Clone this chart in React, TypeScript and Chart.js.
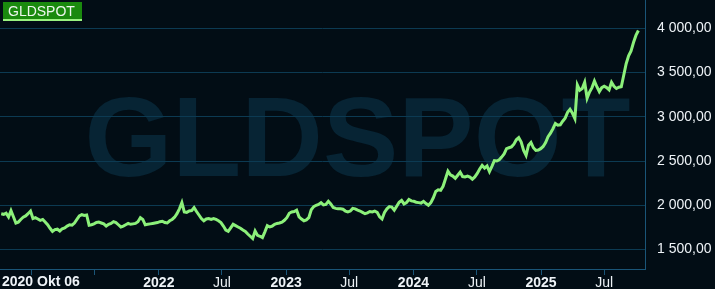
import { useEffect, useRef } from 'react';
import { Chart, registerables } from 'chart.js';

Chart.register(...registerables);

// Weekly gold spot values, starting 2020 Okt 06
const DAY_STEP = 7;
const PRICES = [
  1905, 1898, 1910, 1868, 1940, 1870, 1800, 1810, 1840, 1865,
  1880, 1905, 1935, 1850, 1860, 1845, 1830, 1840, 1812, 1780,
  1740, 1705, 1725, 1730, 1710, 1735, 1745, 1765, 1780, 1775,
  1800, 1840, 1880, 1895, 1885, 1890, 1775, 1780, 1790, 1805,
  1810, 1800, 1790, 1765, 1785, 1795, 1815, 1805, 1780, 1755,
  1765, 1780, 1795, 1785, 1790, 1795, 1815, 1860, 1840, 1780,
  1785, 1790, 1795, 1800, 1805, 1815, 1820, 1805, 1800, 1825,
  1840, 1865, 1905, 1960, 2030, 1925, 1920, 1935, 1940, 1975,
  1930, 1890, 1850, 1825, 1845, 1850, 1840, 1850, 1840, 1825,
  1805, 1765, 1720, 1705, 1745, 1785, 1770, 1755, 1740, 1720,
  1705, 1675, 1650, 1625, 1710, 1660, 1650, 1635, 1700, 1770,
  1755, 1765, 1785, 1795, 1800, 1810, 1830, 1860, 1910, 1925,
  1930, 1945, 1870, 1845, 1825, 1835, 1860, 1950, 1985, 2000,
  2010, 2030, 2005, 2010, 2045, 2015, 1975, 1965, 1960, 1960,
  1955, 1935, 1925, 1935, 1965, 1960, 1945, 1935, 1920, 1905,
  1915, 1930, 1925, 1935, 1920, 1870, 1845, 1920, 1960, 1985,
  1980, 1945, 1990, 2035, 2055, 2015, 2030, 2065, 2050, 2045,
  2035, 2030, 2025, 2045, 2020, 2000, 2030, 2085, 2155, 2175,
  2170, 2215, 2300, 2385, 2345, 2330, 2305, 2340, 2375, 2325,
  2320, 2330, 2318, 2295, 2320, 2360, 2410, 2450, 2420, 2445,
  2380, 2440, 2505, 2500, 2515, 2545, 2580, 2640, 2650, 2660,
  2690, 2740, 2765, 2715, 2620, 2565, 2680, 2710, 2650, 2620,
  2625, 2640, 2665, 2710, 2775, 2815, 2865, 2925, 2905, 2910,
  2950, 2985, 3050, 3085, 3040, 2980, 3360, 3300, 3320, 3390,
  3210, 3280, 3330, 3405, 3340, 3285, 3330, 3345, 3330, 3305,
  3390, 3345, 3320, 3335, 3340, 3470, 3600, 3690, 3745, 3840,
  3920, 3975,
];

const SERIES_NAME = 'GLDSPOT';
const START_LABEL = '2020 Okt 06';
// days since 2020-10-06
const X_TICK_DAYS = [87, 268, 452, 633, 817, 998, 1182, 1364, 1548, 1729];
const X_TICK_LABELS = ['', '', '2022', 'Jul', '2023', 'Jul', '2024', 'Jul', '2025', 'Jul'];
const Y_TICKS = [1500, 2000, 2500, 3000, 3500, 4000];

const BG = '#020d15';
const GRID = '#0c3a52';
const AXIS = '#1a5578';
const TEXT = '#eef3f7';
const LINE = '#8cf07a';
const WATERMARK = '#072434';
const FONT = '"Liberation Sans", Arial, sans-serif';

const fmt = (v: number) => {
  const s = Math.round(v).toString().replace(/\B(?=(\d{3})+(?!\d))/g, ' ');
  return s + ',00';
};

const zeroPad = (s: any) => {
  s.paddingTop = 0;
  s.paddingBottom = 0;
  s.paddingLeft = 0;
  s.paddingRight = 0;
};

const decor = {
  id: 'decor',
  beforeDraw(chart: any) {
    const { ctx, width, height } = chart;
    ctx.save();
    ctx.fillStyle = BG;
    ctx.fillRect(0, 0, width, height);
    ctx.fillStyle = WATERMARK;
    ctx.font = `bold 113px ${FONT}`;
    ctx.textAlign = 'center';
    ctx.textBaseline = 'alphabetic';
    ctx.fillText(SERIES_NAME, width / 2, 176);
    ctx.restore();
  },
  afterDraw(chart: any) {
    const { ctx } = chart;
    ctx.save();
    ctx.fillStyle = TEXT;
    ctx.font = `bold 14px ${FONT}`;
    ctx.textAlign = 'left';
    ctx.textBaseline = 'top';
    const xs = chart.scales.x;
    ctx.fillText(START_LABEL, 2, xs.top + 6);
    ctx.fillStyle = '#1a8a0e';
    ctx.fillRect(3, 2, 79, 17);
    ctx.fillStyle = '#9af280';
    ctx.fillRect(3, 19, 79, 2);
    ctx.fillStyle = '#eef6ee';
    ctx.font = `14px ${FONT}`;
    ctx.textBaseline = 'alphabetic';
    ctx.fillText(SERIES_NAME, 8, 16);
    ctx.restore();
  },
};

export default function App() {
  const ref = useRef<HTMLCanvasElement | null>(null);
  useEffect(() => {
    document.body.style.margin = '0';
    document.body.style.background = BG;
    const canvas = ref.current!;
    const chart = new Chart(canvas, {
      type: 'line',
      data: {
        datasets: [
          {
            label: SERIES_NAME,
            data: PRICES.map((v, i) => ({ x: i * DAY_STEP, y: v })),
            borderColor: LINE,
            borderWidth: 3,
            pointRadius: 0,
            tension: 0,
            fill: false,
          },
        ],
      },
      options: {
        animation: false,
        responsive: false,
        maintainAspectRatio: false,
        layout: { padding: 0 },
        plugins: { legend: { display: false }, tooltip: { enabled: false } },
        scales: {
          x: {
            type: 'linear',
            position: 'bottom',
            min: -3.5,
            max: 1846,
            afterBuildTicks: (s: any) => {
              s.ticks = X_TICK_DAYS.map((v) => ({ value: v }));
            },
            afterFit: (s: any) => {
              s.height = 20;
              zeroPad(s);
            },
            grid: { drawOnChartArea: false, drawTicks: true, tickLength: 6, color: AXIS },
            border: { color: AXIS, width: 1 },
            ticks: {
              autoSkip: false,
              maxRotation: 0,
              padding: 0,
              color: TEXT,
              font: (c: any) => ({
                family: FONT,
                size: 14,
                weight: X_TICK_LABELS[c.index] === 'Jul' ? 'normal' : 'bold',
              }),
              callback: (_v: any, i: number) => X_TICK_LABELS[i],
            },
          },
          y: {
            type: 'linear',
            position: 'right',
            min: 1280,
            max: 4320,
            afterBuildTicks: (s: any) => {
              s.ticks = Y_TICKS.map((v) => ({ value: v }));
            },
            afterFit: (s: any) => {
              s.width = 70;
              zeroPad(s);
            },
            grid: { color: GRID, drawTicks: false },
            border: { color: AXIS, width: 1 },
            ticks: {
              padding: 12,
              color: TEXT,
              font: { family: FONT, size: 14 },
              callback: (v: any) => fmt(Number(v)),
            },
          },
        },
      },
      plugins: [decor],
    });
    return () => chart.destroy();
  }, []);
  return (
    <div style={{ width: 715, height: 289 }}>
      <canvas ref={ref} width={715} height={289} style={{ display: 'block' }} />
    </div>
  );
}
